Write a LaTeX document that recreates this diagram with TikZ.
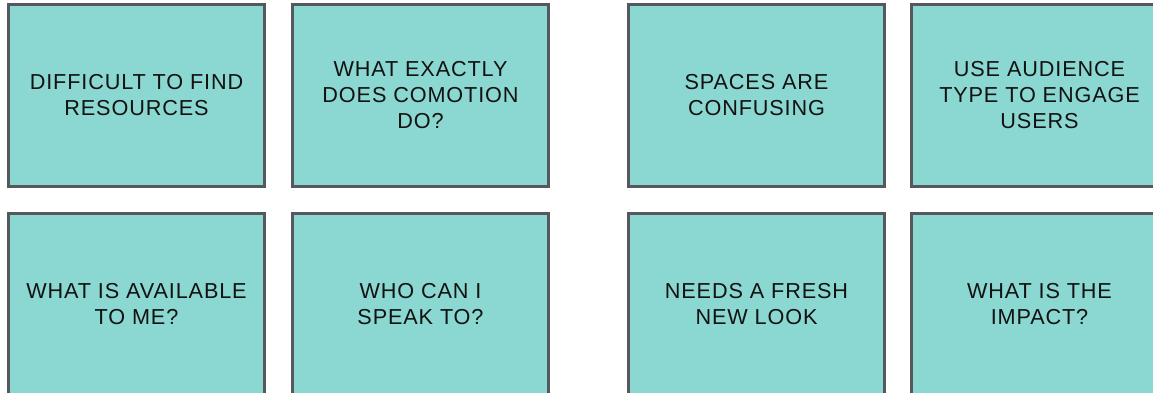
\documentclass[tikz,border=0pt]{standalone}
\usepackage{fontspec}
\setmainfont{Liberation Sans}[LetterSpace=4]
\definecolor{notefill}{HTML}{8AD8D1}
\definecolor{noteedge}{HTML}{55595D}
\tikzset{every node/.style={inner sep=0pt, font=\fontsize{15.4}{18.5}\selectfont, text=black!93},
  note/.style={draw=noteedge, fill=notefill, line width=2.5pt, minimum width=6.39cm, minimum height=4.54cm, align=center}}

\begin{document}
\begin{tikzpicture}[x=0.025cm, y=-0.025cm]
  \useasboundingbox (0,0) rectangle (1153,393);
  \clip (0,0) rectangle (1153,393);
  % top row
  \node[note] (find)     at ( 136.5, 95.5) {DIFFICULT TO FIND\\RESOURCES};
  \node[note] (comotion) at ( 420.5, 95.5) {WHAT EXACTLY\\DOES COMOTION\\DO?};
  \node[note] (spaces)   at ( 756.5, 95.5) {SPACES ARE\\CONFUSING};
  \node[note] (audience) at (1039.5, 95.5) {USE AUDIENCE\\TYPE TO ENGAGE\\USERS};
  % bottom row
  \node[note] (avail)    at ( 136.5,304.5) {WHAT IS AVAILABLE\\TO ME?};
  \node[note] (speak)    at ( 420.5,304.5) {WHO CAN I\\SPEAK TO?};
  \node[note] (fresh)    at ( 756.5,304.5) {NEEDS A FRESH\\NEW LOOK};
  \node[note] (impact)   at (1039.5,304.5) {WHAT IS THE\\IMPACT?};
\end{tikzpicture}
\end{document}
